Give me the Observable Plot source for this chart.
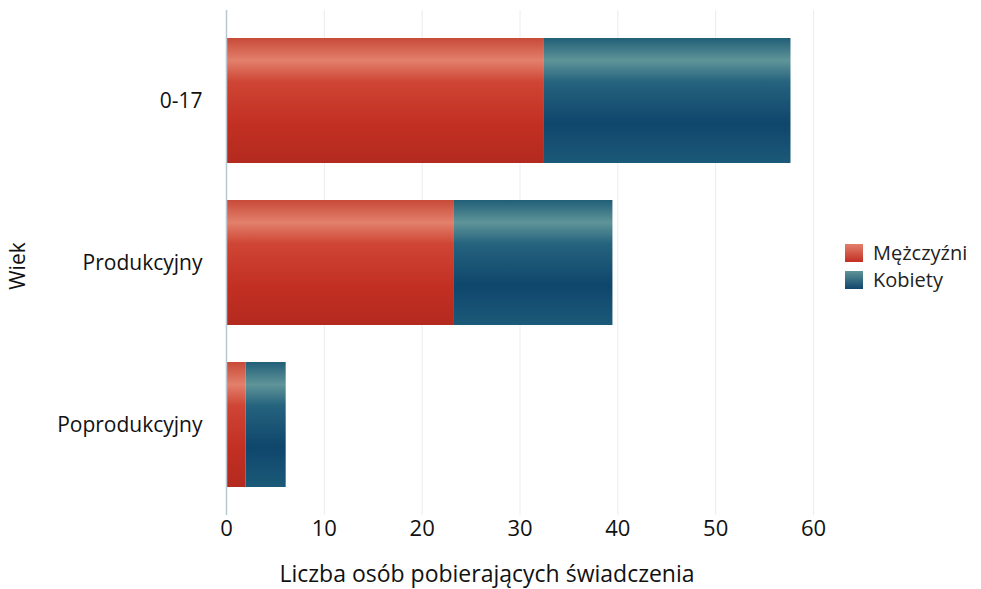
<!DOCTYPE html>
<html>
<head>
<meta charset="utf-8">
<script src="https://cdn.jsdelivr.net/npm/d3@7"></script>
<script src="https://cdn.jsdelivr.net/npm/@observablehq/plot@0.6"></script>
<style>
  html, body { margin: 0; padding: 0; background: #fff; }
  #wrap { position: relative; width: 981px; height: 589px; font-family: "Open Sans", sans-serif; }
  #legend { position: absolute; left: 845px; top: 239px; font-size: 20px; color: #222; line-height: 27px; }
  #legend .row { display: flex; align-items: center; gap: 10px; }
  #legend .sw { width: 18px; height: 18px; }
</style>
</head>
<body>
<div id="wrap"></div>
<script>
const categories = ["0-17", "Produkcyjny", "Poprodukcyjny"];
const seriesNames = ["Mężczyźni", "Kobiety"];
const men = [32.5, 23.3, 2.0];
const women = [25.2, 16.2, 4.1];
const xTicks = [0, 10, 20, 30, 40, 50, 60];
const yLabel = "Wiek";
const xLabel = "Liczba osób pobierających świadczenia";

const gradIds = {"Mężczyźni": "gradMen", "Kobiety": "gradWomen"};
const data = [];
categories.forEach((c, i) => {
  data.push({wiek: c, plec: seriesNames[0], n: men[i]});
  data.push({wiek: c, plec: seriesNames[1], n: women[i]});
});

const chart = Plot.plot({
  width: 830,
  height: 589,
  marginLeft: 226,
  marginRight: 17,
  marginTop: 10,
  marginBottom: 74,
  style: {fontFamily: "Open Sans, sans-serif", background: "white"},
  x: {domain: [0, 60]},
  y: {domain: categories, paddingInner: 0.23, paddingOuter: 0.17},
  color: {type: "identity"},
  marks: [
    Plot.gridX(xTicks, {stroke: "#e8edf1", strokeOpacity: 1}),
    Plot.barX(data, Plot.stackX({
      y: "wiek", x: "n", z: "plec",
      fill: d => `url(#${gradIds[d.plec]})`,
      order: seriesNames
    })),
    Plot.ruleX([0], {stroke: "#b9c7d1", strokeWidth: 1.5}),
    Plot.axisX({ticks: xTicks, tickSize: 0, tickPadding: 5, fontSize: 22, label: null, color: "#111"}),
    Plot.axisY({tickSize: 0, tickPadding: 24, fontSize: 21, label: null, color: "#111"}),
    Plot.text([yLabel], {frameAnchor: "left", text: d => d, rotate: -90, textAnchor: "middle", dx: -208, dy: 3, fontSize: 21, fill: "#111"}),
    Plot.text([xLabel], {frameAnchor: "bottom", text: d => d, dx: -33, dy: 66, fontSize: 23, fill: "#111"})
  ]
});

const svg = d3.select(chart);
const defs = svg.insert("defs", ":first-child");
function grad(id, stops) {
  const g = defs.append("linearGradient").attr("id", id)
    .attr("x1", 0).attr("y1", 0).attr("x2", 0).attr("y2", 1);
  stops.forEach(([o, c]) => g.append("stop").attr("offset", o).attr("stop-color", c));
}
grad("gradMen", [[0, "#c84a38"], [0.18, "#e2806c"], [0.35, "#cf4534"], [0.7, "#c22f22"], [1, "#b42a1f"]]);
grad("gradWomen", [[0, "#215f78"], [0.18, "#5f9498"], [0.35, "#25637e"], [0.68, "#0f466c"], [1, "#1b5a78"]]);

const wrap = document.getElementById("wrap");
wrap.appendChild(chart);

const legend = document.createElement("div");
legend.id = "legend";
const swatchCss = {
  "Mężczyźni": "linear-gradient(#e2806c, #c22f22)",
  "Kobiety": "linear-gradient(#5f9498, #0f466c)"
};
seriesNames.forEach(name => {
  const row = document.createElement("div");
  row.className = "row";
  const sw = document.createElement("span");
  sw.className = "sw";
  sw.style.background = swatchCss[name];
  const t = document.createElement("span");
  t.textContent = name;
  row.appendChild(sw); row.appendChild(t);
  legend.appendChild(row);
});
wrap.appendChild(legend);
</script>
</body>
</html>
